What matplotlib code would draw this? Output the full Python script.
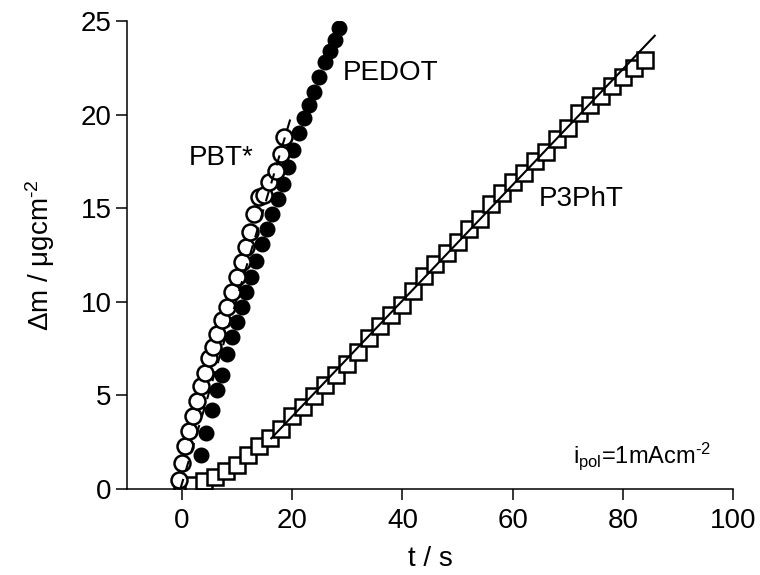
import numpy as np
import matplotlib
matplotlib.use("Agg")
import matplotlib.pyplot as plt

plt.rcParams['font.family'] = ['Liberation Sans', 'DejaVu Sans']
plt.rcParams['mathtext.fontset'] = 'custom'
plt.rcParams['mathtext.rm'] = 'Liberation Sans'
plt.rcParams['mathtext.it'] = 'Liberation Sans'

# PBT* (offene Kreise)
t_pbt = [-0.5, 0.0, 0.6, 1.3, 2.0, 2.7, 3.4, 4.1, 4.9, 5.6, 6.4, 7.3, 8.2,
         9.1, 10.0, 10.8, 11.7, 12.3, 13.1, 14.0, 14.9, 15.8, 17.1, 18.0, 18.5]
m_pbt = [0.5, 1.4, 2.3, 3.1, 3.9, 4.7, 5.5, 6.2, 7.0, 7.6, 8.3, 9.0, 9.7,
         10.5, 11.3, 12.1, 12.9, 13.7, 14.7, 15.6, 15.7, 16.4, 17.0, 17.9, 18.8]
fit_pbt = (0.99, 0.3)          # Steigung, Achsenabschnitt
fit_pbt_range = (-0.3, 19.8)

# PEDOT (gefuellte Kreise)
t_pedot = [3.4, 4.3, 5.4, 6.4, 7.3, 8.2, 9.0, 9.9, 10.8, 11.6, 12.5, 13.5, 14.5, 15.5,
           16.4, 17.4, 18.3, 19.3, 20.2, 21.2, 22.1, 23.1, 24.0, 24.9, 25.9, 26.8, 27.7, 28.5]
m_pedot = [1.8, 3.0, 4.2, 5.3, 6.1, 7.2, 8.1, 8.9, 9.7, 10.5, 11.3, 12.2, 13.1, 13.9,
           14.7, 15.5, 16.3, 17.2, 18.1, 19.0, 19.8, 20.5, 21.2, 22.0, 22.8, 23.4, 24.0, 24.6]

# P3PhT (offene Quadrate)
t_p3pht = [0, 2, 4, 6, 8, 10, 12, 14, 16, 18, 20, 22, 24, 26, 28, 30, 32, 34, 36, 38, 40, 42,
           44, 46, 48, 50, 52, 54, 56, 58, 60, 62, 64, 66, 68, 70, 72, 74, 76, 78, 80, 82, 84]
m_p3pht = [0.05, 0.2, 0.4, 0.65, 0.95, 1.3, 1.8, 2.3, 2.7, 3.2, 3.9, 4.4, 4.95, 5.55, 6.1,
           6.7, 7.3, 8.05, 8.7, 9.3, 9.85, 10.6, 11.4, 12.0, 12.6, 13.2, 13.9, 14.4, 15.2,
           15.8, 16.4, 16.9, 17.5, 18.0, 18.7, 19.3, 20.1, 20.5, 21.0, 21.5, 22.0, 22.5, 22.9]
fit_p3pht = (0.309, -2.3)
fit_p3pht_range = (16.2, 85.8)

HY = '\u2010'  # kurzer Bindestrich statt Minuszeichen im Exponenten

fig = plt.figure(figsize=(7.6, 5.75), dpi=100)
ax = fig.add_axes([0.167, 0.1496, 0.7975, 0.814])

# Quadrate + Fitgerade
ax.plot(t_p3pht, m_p3pht, ls='none', marker='s', ms=11, mfc='white', mec='black', mew=1.8, zorder=2)
xf = np.array(fit_p3pht_range)
ax.plot(xf, fit_p3pht[0] * xf + fit_p3pht[1], color='black', lw=1.5, zorder=3)

# Kreise
ax.plot(t_pedot, m_pedot, ls='none', marker='o', ms=10.5, mfc='black', mec='black', mew=1, zorder=4)
ax.plot(t_pbt, m_pbt, ls='none', marker='o', ms=11.5, mfc='white', mec='black', mew=1.8, zorder=5)
xf = np.array(fit_pbt_range)
ax.plot(xf, fit_pbt[0] * xf + fit_pbt[1], color='black', lw=1.5, ls=(0, (5, 4)), zorder=6)

ax.set_xlim(-10, 100)
ax.set_ylim(0, 25)
ax.set_xticks([0, 20, 40, 60, 80, 100])
ax.set_yticks([0, 5, 10, 15, 20, 25])
ax.spines['top'].set_visible(False)
ax.spines['right'].set_visible(False)
for s in ('left', 'bottom'):
    ax.spines[s].set_linewidth(1.1)
ax.tick_params(direction='out', length=8, width=1.1, labelsize=20)
ax.tick_params(axis='x', pad=6)
ax.tick_params(axis='y', pad=3)

ax.set_xlabel('t / s', fontsize=20, labelpad=8)
ax.set_ylabel('Δm / μgcm$^{' + HY + '2}$', fontsize=20, labelpad=17)

ax.text(1.3, 17.7, 'PBT*', fontsize=20, ha='left', va='center')
ax.text(29.1, 22.2, 'PEDOT', fontsize=20, ha='left', va='center')
ax.text(64.7, 15.5, 'P3PhT', fontsize=20, ha='left', va='center')
ax.text(70.9, 1.4, r'i$_{\rm pol}$=1mAcm$^{' + HY + '2}$', fontsize=17, ha='left', va='baseline')

fig.savefig('out.png', dpi=100)
